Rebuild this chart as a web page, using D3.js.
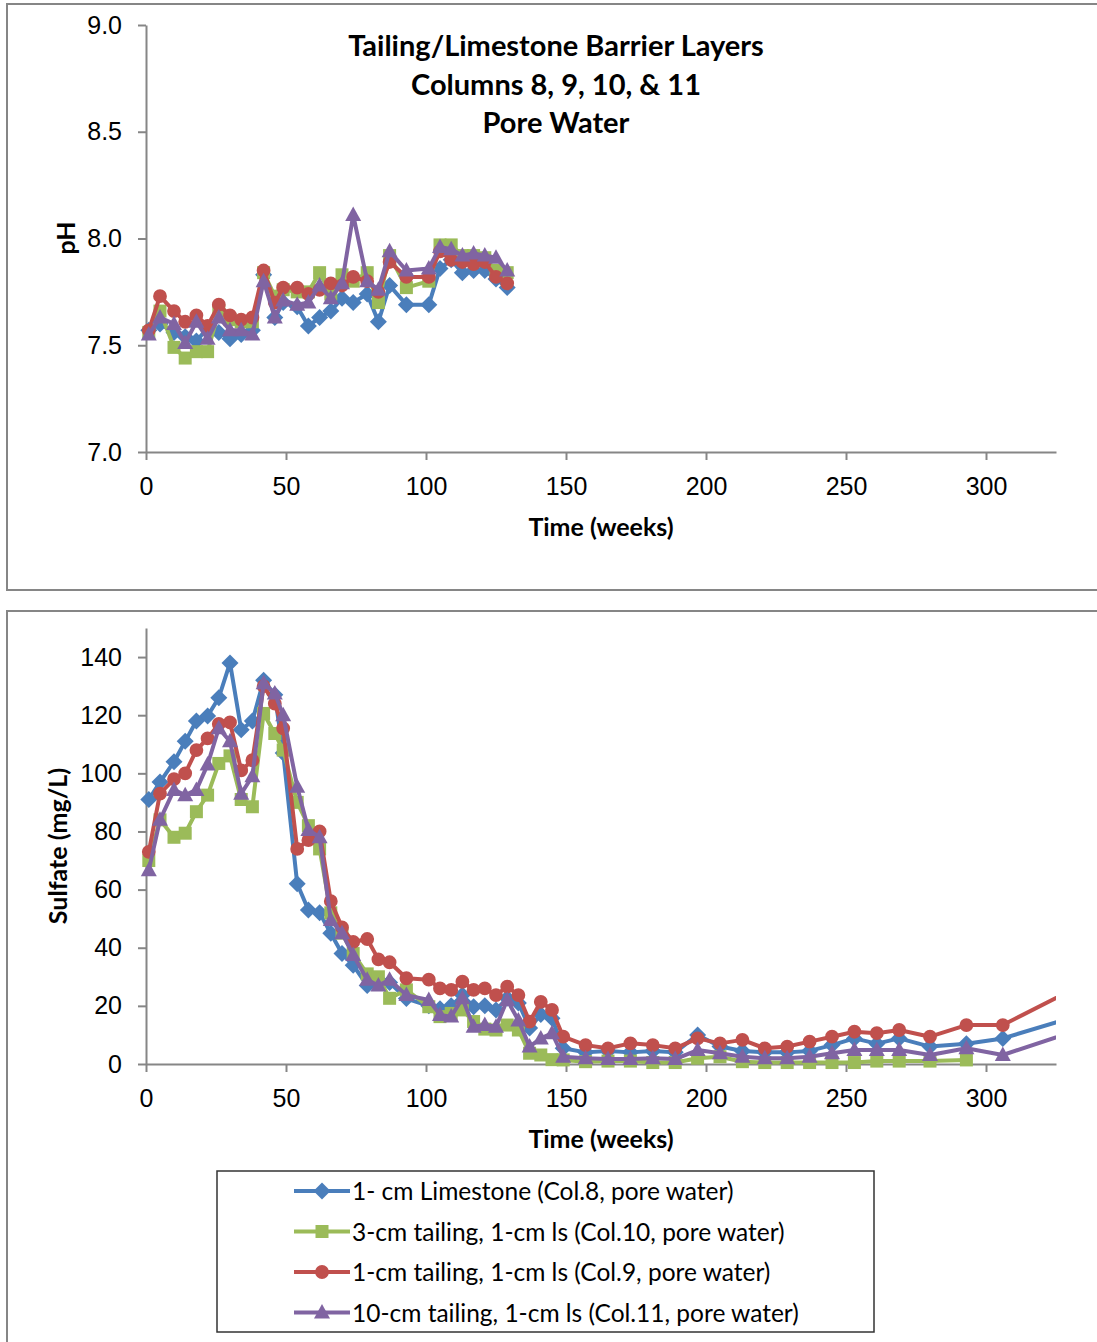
<!DOCTYPE html>
<html>
<head>
<meta charset="utf-8">
<script src="https://cdn.jsdelivr.net/npm/d3@7"></script>
<style>
  body { margin: 0; background: #fff; }
  svg { display: block; font-family: Lato, "Noto Sans", sans-serif; }
</style>
</head>
<body>
<svg id="chart" width="1097" height="1342"></svg>
<script>
// pH, pore water
const weeksPH = [1, 5, 10, 14, 18, 22, 26, 30, 34, 38, 42, 46, 49, 54, 58, 62, 66, 70, 74, 79, 83, 87, 93, 101, 105, 109, 113, 117, 121, 125, 129];
const phCol8 = [7.57, 7.60, 7.56, 7.54, 7.52, 7.58, 7.56, 7.53, 7.55, 7.57, 7.83, 7.63, 7.70, 7.68, 7.59, 7.63, 7.66, 7.72, 7.70, 7.74, 7.61, 7.78, 7.69, 7.69, 7.86, 7.90, 7.84, 7.85, 7.85, 7.81, 7.77];
const phCol10 = [7.56, 7.66, 7.49, 7.44, 7.47, 7.47, 7.66, 7.62, 7.61, 7.61, 7.84, 7.73, 7.76, 7.75, 7.75, 7.84, 7.74, 7.83, 7.80, 7.84, 7.70, 7.92, 7.77, 7.80, 7.97, 7.97, 7.92, 7.92, 7.91, 7.85, 7.84];
const phCol9 = [7.57, 7.73, 7.66, 7.61, 7.64, 7.59, 7.69, 7.64, 7.62, 7.63, 7.85, 7.70, 7.77, 7.77, 7.74, 7.76, 7.79, 7.78, 7.82, 7.80, 7.75, 7.89, 7.82, 7.82, 7.94, 7.90, 7.89, 7.88, 7.89, 7.82, 7.79];
const phCol11 = [7.55, 7.63, 7.60, 7.51, 7.61, 7.53, 7.63, 7.57, 7.57, 7.55, 7.80, 7.63, 7.71, 7.69, 7.70, 7.78, 7.72, 7.79, 8.11, 7.80, 7.76, 7.94, 7.85, 7.86, 7.96, 7.95, 7.92, 7.93, 7.92, 7.91, 7.85];

// sulfate (mg/L), pore water
const weeksSO4 = [1, 5, 10, 14, 18, 22, 26, 30, 34, 38, 42, 46, 49, 54, 58, 62, 66, 70, 74, 79, 83, 87, 93, 101, 105, 109, 113, 117, 121, 125, 129, 133, 137, 141, 145, 149, 157, 165, 173, 181, 189, 197, 205, 213, 221, 229, 237, 245, 253, 261, 269, 280, 293, 306, 340];
const so4Col8 = [91, 97, 104, 111, 118, 119.7, 126, 138, 115, 118, 132, 127, 107, 62, 53, 52, 45, 38, 34, 27, 29, 28, 22.5, 20, 19, 20, 23.7, 19.7, 20, 18.6, 22.6, 21, 12.4, 17, 15.7, 5.4, 4, 4.5, 4, 4.5, 4, 10, 6, 4.5, 4, 4, 4.5, 6.5, 8.8, 7, 8.8, 6, 7, 8.8, 18.7];
const so4Col10 = [70, 84, 78, 79.4, 86.8, 92.5, 103.4, 106, 91, 88.5, 120.6, 113.7, 108, 90, 82, 74, 52, 45, 38, 31, 30, 22.6, 25.5, 19.7, 16.3, 17.4, 18.6, 14.6, 12, 11.7, 13.4, 11.7, 3.7, 3.1, 1.5, 1.4, 0.8, 1, 1, 0.5, 0.5, 2, 2.5, 0.8, 0.5, 0.5, 0.5, 0.5, 0.5, 1, 1, 1, 1.4, null, null];
const so4Col9 = [73, 93, 98, 100, 108, 112, 117, 117.5, 101, 104.5, 130, 124, 115.5, 74, 77, 80, 56, 47, 42, 43, 36, 35, 29.5, 29, 26, 25.5, 28.3, 25.5, 26, 23.7, 26.6, 23.7, 14.6, 21.4, 18.6, 9.4, 6.5, 5.4, 7.1, 6.5, 5.4, 8.8, 7.1, 8.3, 5.4, 6, 7.7, 9.4, 11.1, 10.6, 11.7, 9.4, 13.4, 13.4, 30];
const so4Col11 = [66.7, 84, 94.3, 92.5, 94.3, 103, 115.5, 111, 93, 99, 131, 127.5, 120, 95.4, 80.5, 78, 49.5, 45, 37.5, 29, 27, 29, 23.7, 22, 16.9, 16.3, 22.6, 12.8, 13.4, 12.8, 22, 15, 6, 8.8, 10.6, 2.5, 2, 1.7, 1.7, 2, 1.7, 4.8, 3.7, 2.5, 2, 2, 2.5, 3.7, 4.8, 4.8, 4.8, 3.1, 5.4, 3.1, 13.9];

const seriesNames = [
  "1- cm Limestone (Col.8, pore water)",
  "3-cm tailing, 1-cm ls (Col.10, pore water)",
  "1-cm tailing, 1-cm ls (Col.9, pore water)",
  "10-cm tailing, 1-cm ls (Col.11, pore water)"
];
const seriesColors = ["#4a7ebb", "#9bbb59", "#c0504d", "#8064a2"];
const seriesMarkers = ["diamond", "square", "circle", "triangle"];

const titleLines = ["Tailing/Limestone Barrier Layers", "Columns 8, 9, 10, & 11", "Pore Water"];
const phTicks = [7.0, 7.5, 8.0, 8.5, 9.0];
const so4Ticks = [0, 20, 40, 60, 80, 100, 120, 140];
const weekTicks = [0, 50, 100, 150, 200, 250, 300];

const svg = d3.select("#chart");
const axisColor = "#868686";

function markerPath(type) {
  if (type === "diamond") return "M0,-8.5L8.5,0L0,8.5L-8.5,0Z";
  if (type === "square") return "M-6.5,-6.5H6.5V6.5H-6.5Z";
  if (type === "triangle") return "M0,-8.5L8,6L-8,6Z";
  return d3.symbol(d3.symbolCircle, 150)();
}

// panel borders
svg.append("rect").attr("x", 7).attr("y", 4).attr("width", 1100).attr("height", 586)
  .attr("fill", "none").attr("stroke", axisColor).attr("stroke-width", 2);
svg.append("rect").attr("x", 7).attr("y", 611).attr("width", 1100).attr("height", 740)
  .attr("fill", "none").attr("stroke", axisColor).attr("stroke-width", 2);

const x = d3.scaleLinear().domain([0, 325]).range([146, 1056]);

function drawPanel(opts) {
  const y = d3.scaleLinear().domain(opts.yDomain).range(opts.yRange);
  const g = svg.append("g");

  const clipId = opts.id + "-clip";
  g.append("clipPath").attr("id", clipId)
    .append("rect")
      .attr("x", 130).attr("y", opts.yRange[1] - 10)
      .attr("width", x(325) - 130).attr("height", opts.yRange[0] - opts.yRange[1] + 20);

  // x axis
  const xAxis = g.append("g")
    .attr("transform", `translate(0,${opts.yRange[0]})`)
    .call(d3.axisBottom(x).tickValues(weekTicks).tickSize(8).tickSizeOuter(0).tickPadding(17));
  // y axis
  const yAxis = g.append("g")
    .attr("transform", "translate(146,0)")
    .call(d3.axisLeft(y).tickValues(opts.ticks).tickFormat(opts.format).tickSize(8).tickSizeOuter(0).tickPadding(16));

  [xAxis, yAxis].forEach(a => {
    a.select(".domain").attr("stroke", axisColor).attr("stroke-width", 2);
    a.selectAll(".tick line").attr("stroke", axisColor).attr("stroke-width", 2);
    a.selectAll(".tick text").attr("fill", "#000").style("font-size", "25px");
  });

  g.append("text")
    .attr("x", 601).attr("y", opts.yRange[0] + 84)
    .attr("text-anchor", "middle")
    .style("font-size", "25px").style("font-weight", "bold")
    .text("Time (weeks)");

  g.append("text")
    .attr("transform", `translate(${opts.yLabelX},${opts.yLabelY}) rotate(-90)`)
    .attr("text-anchor", "middle")
    .style("font-size", "25px").style("font-weight", "bold")
    .text(opts.yLabel);

  const plot = g.append("g").attr("clip-path", `url(#${clipId})`);

  opts.values.forEach((vals, i) => {
    const pts = opts.weeks.map((w, j) => ({ w: w, v: vals[j] }));
    const line = d3.line()
      .defined(d => d.v != null)
      .x(d => x(d.w))
      .y(d => y(d.v));

    plot.append("path")
      .datum(pts)
      .attr("d", line)
      .attr("fill", "none")
      .attr("stroke", seriesColors[i])
      .attr("stroke-width", 4)
      .attr("stroke-linejoin", "round");

    plot.selectAll(null)
      .data(pts.filter(d => d.v != null))
      .join("path")
        .attr("transform", d => `translate(${x(d.w)},${y(d.v)})`)
        .attr("d", markerPath(seriesMarkers[i]))
        .attr("fill", seriesColors[i]);
  });
}

drawPanel({
  id: "ph",
  weeks: weeksPH,
  values: [phCol8, phCol10, phCol9, phCol11],
  yDomain: [7, 9], yRange: [452, 25],
  ticks: phTicks, format: d3.format(".1f"),
  yLabel: "pH", yLabelX: 75, yLabelY: 238
});

drawPanel({
  id: "so4",
  weeks: weeksSO4,
  values: [so4Col8, so4Col10, so4Col9, so4Col11],
  yDomain: [0, 150], yRange: [1064, 628],
  ticks: so4Ticks, format: d3.format("d"),
  yLabel: "Sulfate (mg/L)", yLabelX: 67, yLabelY: 846
});

// title
svg.append("g").selectAll("text")
  .data(titleLines)
  .join("text")
    .attr("x", 556)
    .attr("y", (d, i) => 56 + i * 38.5)
    .attr("text-anchor", "middle")
    .style("font-size", "29px").style("font-weight", "bold")
    .text(d => d);

// legend
const legend = svg.append("g");
legend.append("rect")
  .attr("x", 217).attr("y", 1171).attr("width", 657).attr("height", 161)
  .attr("fill", "#fff").attr("stroke", "#333").attr("stroke-width", 1.5);

seriesNames.forEach((name, i) => {
  const ly = 1191 + i * 40.5;
  legend.append("line")
    .attr("x1", 294).attr("x2", 350).attr("y1", ly).attr("y2", ly)
    .attr("stroke", seriesColors[i]).attr("stroke-width", 4);
  legend.append("path")
    .attr("transform", `translate(322,${ly})`)
    .attr("d", markerPath(seriesMarkers[i]))
    .attr("fill", seriesColors[i]);
  legend.append("text")
    .attr("x", 352).attr("y", ly + 9)
    .style("font-size", "24.5px")
    .text(name);
});
</script>
</body>
</html>
